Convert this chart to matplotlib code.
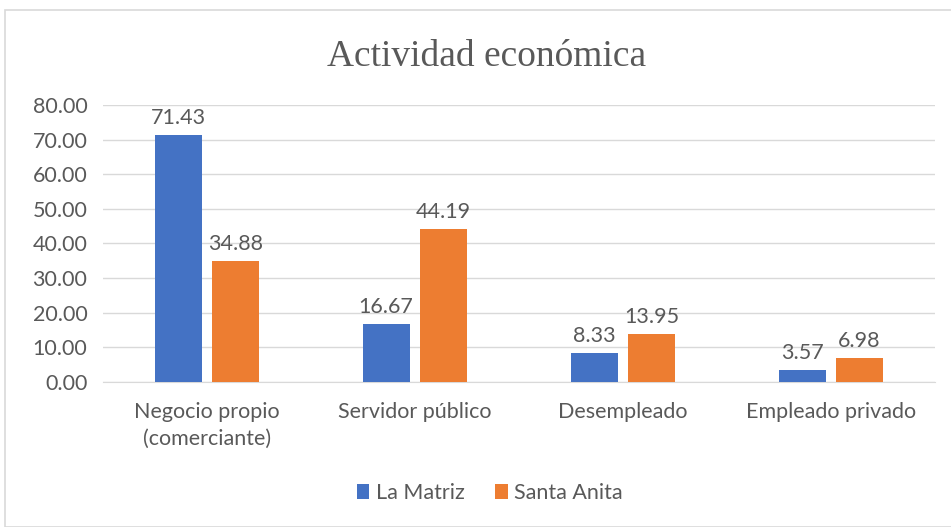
import numpy as np
import matplotlib
matplotlib.use('Agg')
import matplotlib.pyplot as plt
from matplotlib.patches import Rectangle

categories = ['Negocio propio\n(comerciante)', 'Servidor público', 'Desempleado', 'Empleado privado']
la_matriz = [71.43, 16.67, 8.33, 3.57]
santa_anita = [34.88, 44.19, 13.95, 6.98]
series_names = ['La Matriz', 'Santa Anita']
y_ticks = [0, 10, 20, 30, 40, 50, 60, 70, 80]

text_color = '#595959'
fs = 15.5
plt.rcParams['font.family'] = ['Lato', 'DejaVu Sans']

fig = plt.figure(figsize=(9.51, 5.27), dpi=100)
ax = fig.add_axes([0.108, 0.275, 0.875, 0.526])

# chart border like excel
fig.patches.append(Rectangle((5 / 951, 0.0), 1.2, 1 - 10 / 527, transform=fig.transFigure,
                             fill=False, edgecolor='#D9D9D9', linewidth=1.2))

x = np.arange(len(categories))
w = 0.226
gap = 0.05
b1 = ax.bar(x - w / 2 - gap / 2, la_matriz, w, color='#4472C4', label=series_names[0], zorder=3)
b2 = ax.bar(x + w / 2 + gap / 2, santa_anita, w, color='#ED7D31', label=series_names[1], zorder=3)

for bars in (b1, b2):
    ax.bar_label(bars, fmt='%.2f', padding=5, fontsize=fs, color=text_color)

ax.set_xlim(-0.5, len(categories) - 0.5)
ax.set_ylim(0, 80)
ax.set_yticks(y_ticks)
ax.set_yticklabels(['%.2f' % v for v in y_ticks])
ax.set_xticks(x)
ax.set_xticklabels(categories, linespacing=1.45)
ax.tick_params(axis='both', length=0, labelsize=fs, labelcolor=text_color)
ax.tick_params(axis='x', pad=14)
ax.tick_params(axis='y', pad=11)
ax.grid(axis='y', color='#D9D9D9', linewidth=1, zorder=0)
for s in ['top', 'right', 'left']:
    ax.spines[s].set_visible(False)
ax.spines['bottom'].set_color('#D9D9D9')

fig.text(0.512, 0.892, 'Actividad económica', ha='center', va='center',
         fontsize=27, color=text_color, family='Liberation Serif')

fig.legend(loc='center', bbox_to_anchor=(0.515, 0.065), ncol=2, frameon=False,
           fontsize=fs, labelcolor=text_color, handlelength=0.6, handleheight=0.7,
           handletextpad=0.3, columnspacing=1.4)

fig.savefig('out.png', dpi=100)
